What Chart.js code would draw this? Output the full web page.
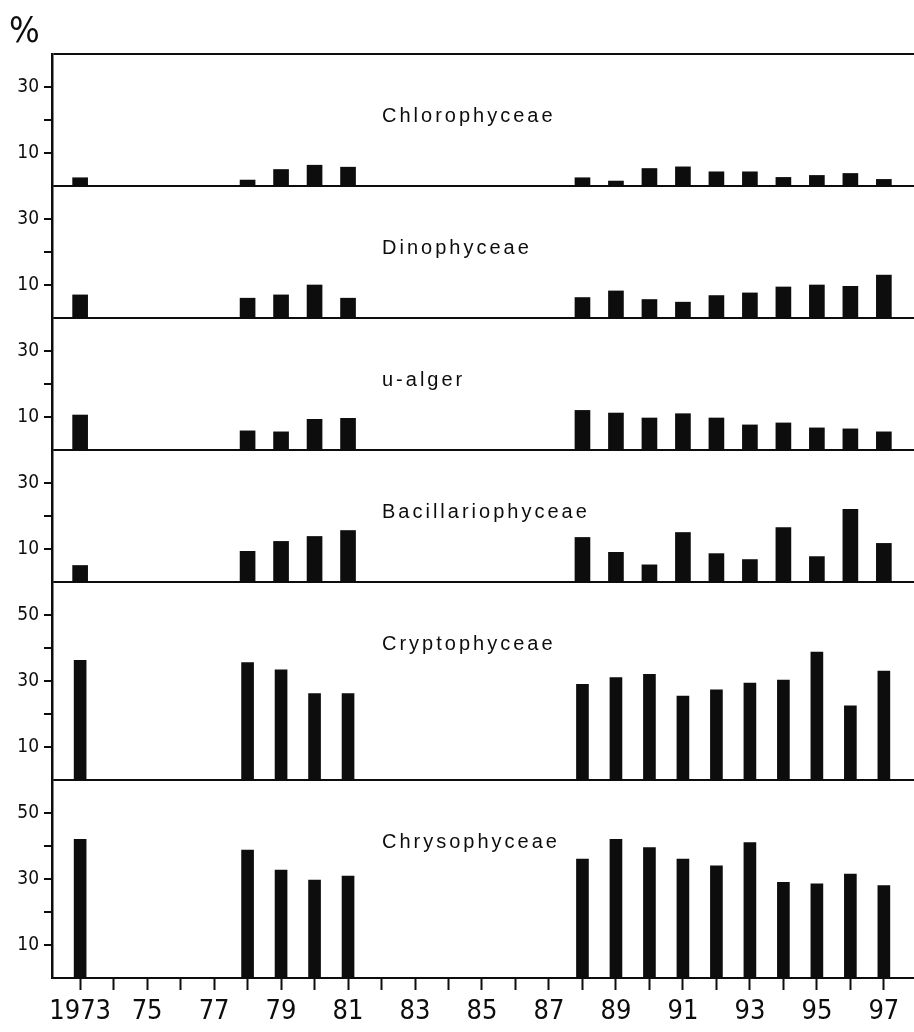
<!DOCTYPE html>
<html>
<head>
<meta charset="utf-8">
<script src="https://cdn.jsdelivr.net/npm/chart.js@4.4.1/dist/chart.umd.min.js"></script>
<style>
  html, body { margin: 0; padding: 0; background: #fff; overflow: hidden; }
  #wrap { width: 914px; height: 1032px; }
</style>
</head>
<body>
<div id="wrap"><canvas id="algae" width="914" height="1032"></canvas></div>
<script>
// sample years and the % share of each algal class
const years = [1973, 1978, 1979, 1980, 1981, 1988, 1989, 1990, 1991, 1992, 1993, 1994, 1995, 1996, 1997];

const chlorophyceae = [2.5, 1.8, 5, 6.3, 5.7, 2.5, 1.5, 5.3, 5.8, 4.3, 4.3, 2.6, 3.2, 3.8, 2];
const dinophyceae = [7, 6, 7, 10, 6, 6.2, 8.2, 5.6, 4.8, 6.8, 7.6, 9.4, 10, 9.6, 13];
const uAlger = [10.6, 5.8, 5.5, 9.3, 9.6, 12, 11.2, 9.7, 11, 9.7, 7.6, 8.2, 6.7, 6.4, 5.5];
const bacillariophyceae = [5, 9.3, 12.3, 13.8, 15.6, 13.5, 9, 5.2, 15, 8.6, 6.8, 16.5, 7.7, 22, 11.7];
const cryptophyceae = [36.3, 35.6, 33.4, 26.2, 26.2, 29, 31, 32, 25.4, 27.3, 29.4, 30.3, 38.8, 22.5, 33];
const chrysophyceae = [42, 38.8, 32.7, 29.7, 30.9, 36, 42, 39.5, 36, 34, 41, 29, 28.5, 31.5, 28];

const panelNames = ['Chlorophyceae', 'Dinophyceae', 'u-alger', 'Bacillariophyceae', 'Cryptophyceae', 'Chrysophyceae'];
const panelValues = [chlorophyceae, dinophyceae, uAlger, bacillariophyceae, cryptophyceae, chrysophyceae];
const panelMax = [40, 40, 40, 40, 60, 60];
const yTickLabels = [[10, 30], [10, 30], [10, 30], [10, 30], [10, 30, 50], [10, 30, 50]];
const xTickLabels = ['1973', '75', '77', '79', '81', '83', '85', '87', '89', '91', '93', '95', '97'];

const ink = '#0d0d0d';
const narrow = '"DejaVu Sans Condensed", "Liberation Sans Narrow", "Liberation Sans", sans-serif';

const datasets = panelValues.map((vals, i) => ({
    label: panelNames[i],
    data: years.map((yr, j) => ({ x: yr, y: vals[j] })),
    yAxisID: 'y' + i,
    stack: 'all',
    backgroundColor: ink,
    borderWidth: 0,
    barThickness: i < 4 ? 15 : 12
}));

const scales = {
    x: {
        type: 'linear',
        min: 1972.16,
        max: 1997.9,
        offset: false,
        afterFit: s => { s.height = 54; },
        border: { display: true, color: ink, width: 2 },
        grid: { offset: false, drawOnChartArea: false, drawTicks: true, tickLength: 12, tickWidth: 2, tickColor: ink },
        ticks: {
            stepSize: 1,
            maxTicksLimit: 40,
            includeBounds: false,
            autoSkip: false,
            maxRotation: 0,
            padding: 6,
            color: ink,
            font: { family: narrow, size: 27 },
            callback: v => {
                const k = (v - 1973) / 2;
                return Number.isInteger(k) && xTickLabels[k] ? xTickLabels[k] : '';
            }
        }
    }
};

// stacked left axes are laid out last-defined on top, so add them bottom panel first
for (let i = panelMax.length - 1; i >= 0; i--) {
    const max = panelMax[i];
    scales['y' + i] = {
        type: 'linear',
        position: 'left',
        stack: 'panels',
        stackWeight: max,
        stacked: false,
        min: 0,
        max: max,
        afterFit: s => { s.width = 52; },
        border: { display: true, color: ink, width: 2.5 },
        grid: {
            lineWidth: 2,
            color: c => (c.tick && (c.tick.value === 0 || (i === 0 && c.tick.value === max))) ? ink : 'rgba(0,0,0,0)',
            drawTicks: true,
            tickLength: 8,
            tickWidth: 2,
            tickColor: c => (c.tick && (c.tick.value === 0 || c.tick.value === max)) ? 'rgba(0,0,0,0)' : ink
        },
        ticks: {
            stepSize: 10,
            autoSkip: false,
            padding: 5,
            color: ink,
            font: { family: narrow, size: 19 },
            callback: v => yTickLabels[i].includes(v) ? String(v) : ''
        }
    };
}

// class names inside each panel plus the % unit in the corner
const panelLabels = {
    id: 'panelLabels',
    afterDraw(chart) {
        const ctx = chart.ctx;
        ctx.save();
        ctx.fillStyle = ink;
        ctx.textBaseline = 'alphabetic';
        ctx.font = '20px "Liberation Sans", Arial, sans-serif';
        ctx.letterSpacing = '3px';
        panelNames.forEach((name, i) => {
            const s = chart.scales['y' + i];
            ctx.fillText(name, chart.chartArea.left + 330, s.top + 68);
        });
        ctx.letterSpacing = '0px';
        ctx.font = '36px ' + narrow;
        ctx.fillText('%', 9, 42);
        ctx.restore();
    }
};

new Chart(document.getElementById('algae'), {
    type: 'bar',
    data: { datasets },
    options: {
        responsive: false,
        animation: false,
        layout: { padding: { top: 54, left: 0, right: 0, bottom: 0 } },
        plugins: { legend: { display: false }, tooltip: { enabled: false } },
        scales
    },
    plugins: [panelLabels]
});
</script>
</body>
</html>
